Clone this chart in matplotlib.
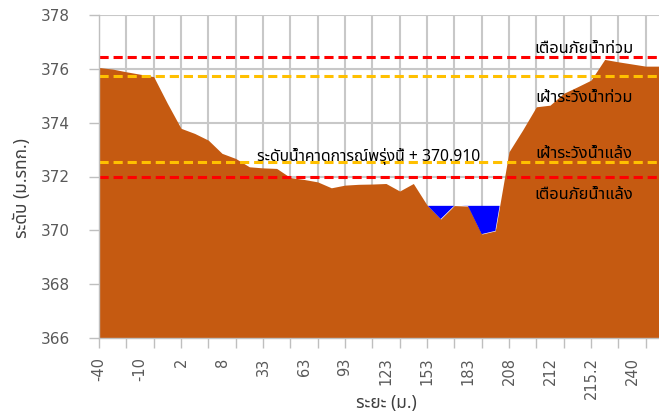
import numpy as np
import matplotlib
matplotlib.use("Agg")
import matplotlib.pyplot as plt
from matplotlib import font_manager
from matplotlib.ft2font import FT2Font

# ---------------- data ----------------
distances = ["-40", "-30", "-20", "-10", "-6", "-2", "2", "4", "6", "8",
             "16", "24", "33", "43", "53", "63", "73", "83", "93", "103",
             "113", "123", "133", "143", "153", "163", "173", "183", "193",
             "203", "208", "209", "210.5", "212", "213", "214", "215.2",
             "220", "230", "240", "250", "260", "270"]
elevation = [376.05, 375.99, 375.89, 375.80, 375.71, 374.72, 373.79, 373.60,
             373.35, 372.86, 372.67, 372.36, 372.32, 372.30, 371.96, 371.89,
             371.80, 371.58, 371.68, 371.71, 371.72, 371.74, 371.46, 371.74,
             370.94, 370.42, 370.92, 370.90, 369.86, 369.98, 372.92, 373.73,
             374.59, 374.65, 375.09, 375.33, 375.58, 376.35, 376.26, 376.18,
             376.10, 376.10, 376.08]
shown_labels = ["-40", "-10", "2", "8", "33", "63", "93", "123", "153", "183",
                "208", "212", "215.2", "240"]
water_level = 370.910
flood_warning = 376.45
flood_watch = 375.75
drought_watch = 372.55
drought_warning = 372.00
yticks = [366, 368, 370, 372, 374, 376, 378]

# ---------------- font with Thai glyphs ----------------
def find_thai_font():
    prefs = ["Tahoma", "Noto Sans Thai", "Noto Sans", "DejaVu Sans", "Loma",
             "Garuda", "Norasi", "Kinnari"]
    cands = []
    for f in font_manager.fontManager.ttflist:
        try:
            ft = FT2Font(f.fname)
            if ord("ก") in ft.get_charmap():
                cands.append(f)
        except Exception:
            pass
    for p in prefs:
        for f in cands:
            if f.name == p and f.weight in (400, "normal", "regular"):
                return f.name
    if cands:
        return cands[0].name
    return None

thai = find_thai_font()
fam = ([thai] if thai else []) + ["DejaVu Sans"]
plt.rcParams["font.family"] = fam

# ---------------- figure ----------------
W, H = 659, 418
fig = plt.figure(figsize=(W / 100, H / 100), dpi=100)
left, right, bottom, top = 99, 673, 338, 15
ax = fig.add_axes([left / W, 1 - bottom / H, (right - left) / W, (bottom - top) / H])

x = np.arange(len(distances))
elev = np.array(elevation)

ax.set_xlim(0, len(distances) - 1)
ax.set_ylim(366, 378)

grid_c = "#C8C8C8"
ax.set_yticks(yticks)
ax.set_xticks(x[::2])
ax.set_xticklabels([])
ax.vlines(x[::2], yticks[0], yticks[-1], colors=grid_c, linewidth=1.5,
          zorder=1.5)
ax.hlines(yticks, 0, len(distances) - 1, colors=grid_c, linewidth=1.5,
          zorder=1.5)

# terrain
ax.fill_between(x, 366, elev, color="#C55A11", linewidth=0, zorder=2)
# water
ax.fill_between(x, elev, water_level, where=elev < water_level, interpolate=True,
                color="#0000FF", linewidth=0, zorder=2)

dash = (0, (3.0, 1.6))
for val, col in [(flood_warning, "#FF0000"), (flood_watch, "#FFC000"),
                 (drought_watch, "#FFC000"), (drought_warning, "#FF0000")]:
    ax.axhline(val, color=col, linewidth=2.2, linestyle=dash, zorder=3)

# category labels (every third category)
for lab in shown_labels:
    i = distances.index(lab)
    ax.text(i, -0.06, lab, transform=ax.get_xaxis_transform(),
            rotation=90, ha="center", va="top", fontsize=10.5, color="#595959",
            family=["DejaVu Sans"])
ax.set_yticklabels([str(v) for v in yticks], fontsize=11, color="#595959",
                   family=["DejaVu Sans"])
ax.tick_params(axis="y", length=7, width=1, color="#BFBFBF", pad=14)
ax.tick_params(axis="x", length=7, width=1, color="#BFBFBF")

for s in ["top", "right"]:
    ax.spines[s].set_visible(False)
for s in ["left", "bottom"]:
    ax.spines[s].set_color("#BFBFBF")
    ax.spines[s].set_linewidth(1.0)
    ax.spines[s].set_zorder(4)

# annotations
tx = 35.5
txt_kw = dict(ha="center", va="center", fontsize=11.8, color="black", zorder=5)
ax.text(tx, 376.74, "เตือนภัยน้ำท่วม", **txt_kw)
ax.text(tx, 374.93, "เฝ้าระวังน้ำท่วม", **txt_kw)
ax.text(tx, 372.84, "เฝ้าระวังน้ำแล้ง", **txt_kw)
ax.text(tx, 371.33, "เตือนภัยน้ำแล้ง", **txt_kw)
ax.text(19.7, 372.76, "ระดับน้ำคาดการณ์พรุ่งนี้ + 370.910",
        **dict(txt_kw, fontsize=11.3))

# axis titles
fig.text(22 / W, 1 - 188 / H, "ระดับ (ม.รทก.)", rotation=90, ha="center",
         va="center", fontsize=12.5, color="#404040", fontweight="bold")
fig.text(386 / W, 1 - 403 / H, "ระยะ (ม.)", ha="center", va="center",
         fontsize=12.5, color="#404040", fontweight="bold")

fig.savefig("out.png", dpi=100)
